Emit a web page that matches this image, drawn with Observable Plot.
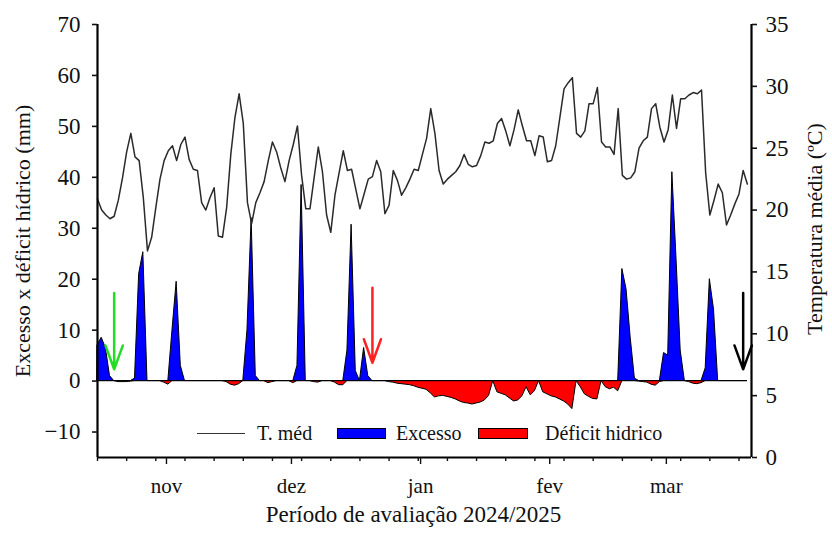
<!DOCTYPE html>
<html>
<head>
<meta charset="utf-8">
<script src="https://cdn.jsdelivr.net/npm/d3@7"></script>
<script src="https://cdn.jsdelivr.net/npm/@observablehq/plot@0.6"></script>
<style>
  html, body { margin: 0; padding: 0; background: #fff; }
  #wrap { position: relative; width: 832px; height: 533px; font-family: "Liberation Serif", serif; }
  .lg { position: absolute; font-size: 20px; color: #111; line-height: 20px; white-space: nowrap; }
  .sw { position: absolute; height: 11px; border: 1.5px solid #000; box-sizing: border-box; }
</style>
</head>
<body>
<div id="wrap"></div>
<script>
// ---- data (daily, starting 2024-10-14) ----
const startDate = Date.UTC(2024, 9, 14);
const endDate = Date.UTC(2025, 2, 20);

const tempMedia = [
  20.9, 20.0, 19.6, 19.3, 19.5, 20.8, 22.6, 24.7, 26.2, 24.3,
  24.0, 21.0, 16.7, 17.8, 20.2, 22.5, 24.0, 24.8, 25.2, 24.0,
  25.3, 25.9, 24.1, 23.3, 23.2, 20.6, 20.0, 21.0, 21.8, 17.9,
  17.8, 20.2, 24.5, 27.5, 29.4, 27.0, 20.6, 18.9, 20.6, 21.4,
  22.3, 24.0, 25.5, 24.7, 23.4, 22.3, 24.0, 25.3, 26.8, 22.8,
  20.1, 20.1, 22.6, 25.1, 23.1, 19.6, 18.2, 21.2, 23.0, 24.8,
  23.2, 23.3, 21.7, 20.1, 21.3, 22.5, 22.7, 24.0, 23.1, 19.7,
  20.4, 23.2, 22.4, 21.2, 21.8, 22.5, 23.3, 23.2, 24.5, 25.8,
  28.2, 26.2, 23.2, 22.1, 22.5, 22.8, 23.1, 23.6, 24.5, 23.7,
  23.5, 23.6, 24.4, 25.5, 25.4, 25.6, 27.0, 27.4, 26.4, 25.2,
  26.5, 28.1, 26.8, 25.6, 25.6, 24.4, 26.0, 25.9, 23.9, 24.0,
  25.2, 27.5, 29.8, 30.3, 30.7, 26.2, 25.9, 26.4, 28.6, 28.6,
  29.9, 25.5, 25.1, 25.1, 24.5, 28.2, 22.8, 22.5, 22.6, 23.1,
  25.0, 25.6, 25.9, 28.2, 28.6, 26.7, 25.5, 26.5, 29.3, 26.6,
  29.0, 29.0, 29.3, 29.5, 29.4, 29.7, 23.0, 19.6, 20.8, 22.1,
  21.4, 18.8, 19.6, 20.5, 21.3, 23.2, 22.1
];

const excesso = [
  7.0, 8.5, 6.5, 1.0, 0, 0, 0, 0, 0, 0.5,
  21, 25.3, 0, 0, 0, 0, 0, 0, 10, 19.5,
  3, 0, 0, 0, 0, 0, 0, 0, 0, 0,
  0, 0, 0, 0, 0, 0, 10, 32, 1, 0,
  0, 0, 0, 0, 0, 0, 0, 0, 3, 38.5,
  0, 0, 0, 0, 0, 0, 0, 0, 0, 0,
  6, 30.7, 2, 0, 6.5, 1, 0, 0, 0, 0,
  0, 0, 0, 0, 0, 0, 0, 0, 0, 0,
  0, 0, 0, 0, 0, 0, 0, 0, 0, 0,
  0, 0, 0, 0, 0, 0, 0, 0, 0, 0,
  0, 0, 0, 0, 0, 0, 0, 0, 0, 0,
  0, 0, 0, 0, 0, 0, 0, 0, 0, 0,
  0, 0, 0, 0, 0, 0, 22, 18, 8.5, 0.5,
  0, 0, 0, 0, 0, 0, 5.5, 5.0, 41, 24,
  6, 0, 0, 0, 0, 0, 2.5, 20, 14, 0,
  0, 0, 0, 0, 0, 0, 0
];

const deficit = [
  0, 0, 0, 0, 0, -0.2, -0.2, -0.2, -0.1, 0,
  0, 0, 0, 0, 0, 0, -0.3, -0.7, 0, 0,
  0, 0, 0, 0, 0, 0, 0, 0, 0, 0,
  0, -0.2, -0.7, -0.9, -0.6, 0, 0, 0, 0, 0,
  0, -0.4, -0.2, 0, 0, 0, 0, -0.4, 0, 0,
  0, 0, -0.2, -0.3, 0, 0, 0, -0.3, -0.8, -0.8,
  0, 0, 0, 0, 0, 0, 0, 0, 0, 0,
  -0.2, -0.3, -0.5, -0.6, -0.7, -0.8, -1.0, -1.3, -1.5, -1.7,
  -2.4, -3.2, -3.0, -2.9, -3.1, -3.3, -3.6, -4.0, -4.3, -4.4,
  -4.6, -4.4, -4.2, -3.8, -2.9, 0, -2.2, -2.5, -2.8, -3.4,
  -4.0, -3.8, -3.0, -1.2, -2.8, -2.0, 0, -2.2, -2.6, -3.0,
  -3.2, -3.6, -4.0, -4.6, -5.5, 0, -1.2, -2.6, -3.1, -3.5,
  -3.6, 0, -1.2, -1.6, -1.3, -2.0, 0, 0, 0, 0,
  -0.1, -0.2, -0.3, -0.7, -0.9, -0.2, 0, 0, 0, 0,
  0, 0, -0.2, -0.5, -0.6, -0.4, 0, 0, 0, 0,
  0, 0, 0, 0, 0, 0, 0
];

const monthLabels = ["nov", "dez", "jan", "fev", "mar"];
const monthStarts = [Date.UTC(2024,10,1), Date.UTC(2024,11,1), Date.UTC(2025,0,1), Date.UTC(2025,1,1), Date.UTC(2025,2,1)];
const leftTicks = [-10, 0, 10, 20, 30, 40, 50, 60, 70];
const tempTicks = [0, 5, 10, 15, 20, 25, 30, 35];

// arrows: day offset from start, from/to on left axis (mm)
const arrowDays = [4, 66, 155];
const arrowFrom = [17.3, 18.3, 17.3];
const arrowTo = [2.3, 3.6, 2.3];
const arrowColors = ["#22dd22", "#ff2222", "#000000"];

// ---- build tables ----
const yMin = -15, yMax = 70, tMax = 35;
const tempToY = t => yMin + t * (yMax - yMin) / tMax;
const yToTemp = y => (y - yMin) * tMax / (yMax - yMin);

const rows = tempMedia.map((t, i) => ({
  date: d3.utcDay.offset(new Date(startDate), i),
  temp: t,
  excesso: excesso[i],
  deficit: deficit[i]
}));
const arrows = arrowDays.map((d, i) => ({
  date: d3.utcDay.offset(new Date(startDate), d),
  from: arrowFrom[i], to: arrowTo[i], color: arrowColors[i]
}));
const weekly = d3.utcMonday.range(new Date(startDate), new Date(endDate + 1));

const chart = Plot.plot({
  width: 832,
  height: 533,
  marginLeft: 97,
  marginRight: 81,
  marginTop: 24,
  marginBottom: 76,
  style: {fontFamily: "Liberation Serif", background: "white", color: "#111"},
  x: {type: "utc", domain: [new Date(startDate), new Date(endDate)]},
  y: {domain: [yMin, yMax]},
  color: {type: "identity"},
  marks: [
    Plot.areaY(rows, {x: "date", y1: 0, y2: "deficit", fill: "#ff0000", stroke: "#000", strokeWidth: 1}),
    Plot.areaY(rows, {x: "date", y1: 0, y2: "excesso", fill: "#0000ff", stroke: "#000", strokeWidth: 1}),
    Plot.lineY(rows, {x: "date", y: d => tempToY(d.temp), stroke: "#2a2a2a", strokeWidth: 1.5}),
    Plot.arrow(arrows, {x: "date", y1: "from", y2: "to", stroke: "color", strokeWidth: 2.5, headAngle: 40, headLength: 22}),
    Plot.ruleX([new Date(startDate), new Date(endDate)], {stroke: "#000", strokeWidth: 2.2}),
    Plot.ruleY([yMin], {stroke: "#000", strokeWidth: 2.2}),
    Plot.axisY({ticks: leftTicks, tickSize: 5, tickPadding: 12, fontSize: 23, strokeWidth: 1.6, label: null}),
    Plot.axisY({anchor: "right", ticks: tempTicks.map(tempToY), tickFormat: v => String(Math.round(yToTemp(v))),
                tickSize: 5, tickPadding: 9, fontSize: 23, strokeWidth: 1.6, label: null}),
    Plot.axisX({ticks: weekly, tickSize: 4, tickFormat: () => "", strokeWidth: 1.4, label: null}),
    Plot.axisX({ticks: monthStarts.map(d => new Date(d)), tickSize: 7, tickPadding: 14, dx: -6,
                tickFormat: (d, i) => monthLabels[monthStarts.indexOf(+d)], fontSize: 21, strokeWidth: 1.4, label: null}),
    Plot.text(["Excesso x déficit hídrico (mm)"], {frameAnchor: "left", dx: -75, rotate: -90, fontSize: 22, textAnchor: "middle"}),
    Plot.text(["Temperatura média (ºC)"], {frameAnchor: "right", dx: 63, dy: -12, rotate: -90, fontSize: 22, textAnchor: "middle"}),
    Plot.text(["Período de avaliação 2024/2025"], {frameAnchor: "bottom", dy: 64, dx: -11, fontSize: 23, textAnchor: "middle"})
  ]
});

const wrap = document.getElementById("wrap");
wrap.appendChild(chart);

// legend (inside the plot area, as in the reference)
const legend = [
  {type: "line", left: 197, width: 48},
  {type: "text", left: 257, text: "T. méd"},
  {type: "box", left: 337, width: 49, color: "#0000ff"},
  {type: "text", left: 396, text: "Excesso"},
  {type: "box", left: 478, width: 50, color: "#ff0000"},
  {type: "text", left: 545, text: "Déficit hidrico"}
];
for (const item of legend) {
  const el = document.createElement("div");
  if (item.type === "text") {
    el.className = "lg";
    el.style.left = item.left + "px";
    el.style.top = "423px";
    el.textContent = item.text;
  } else if (item.type === "box") {
    el.className = "sw";
    el.style.left = item.left + "px";
    el.style.top = "428px";
    el.style.width = item.width + "px";
    el.style.background = item.color;
  } else {
    el.style.position = "absolute";
    el.style.left = item.left + "px";
    el.style.top = "433px";
    el.style.width = item.width + "px";
    el.style.height = "0";
    el.style.borderTop = "1.5px solid #333";
  }
  wrap.appendChild(el);
}
</script>
</body>
</html>
